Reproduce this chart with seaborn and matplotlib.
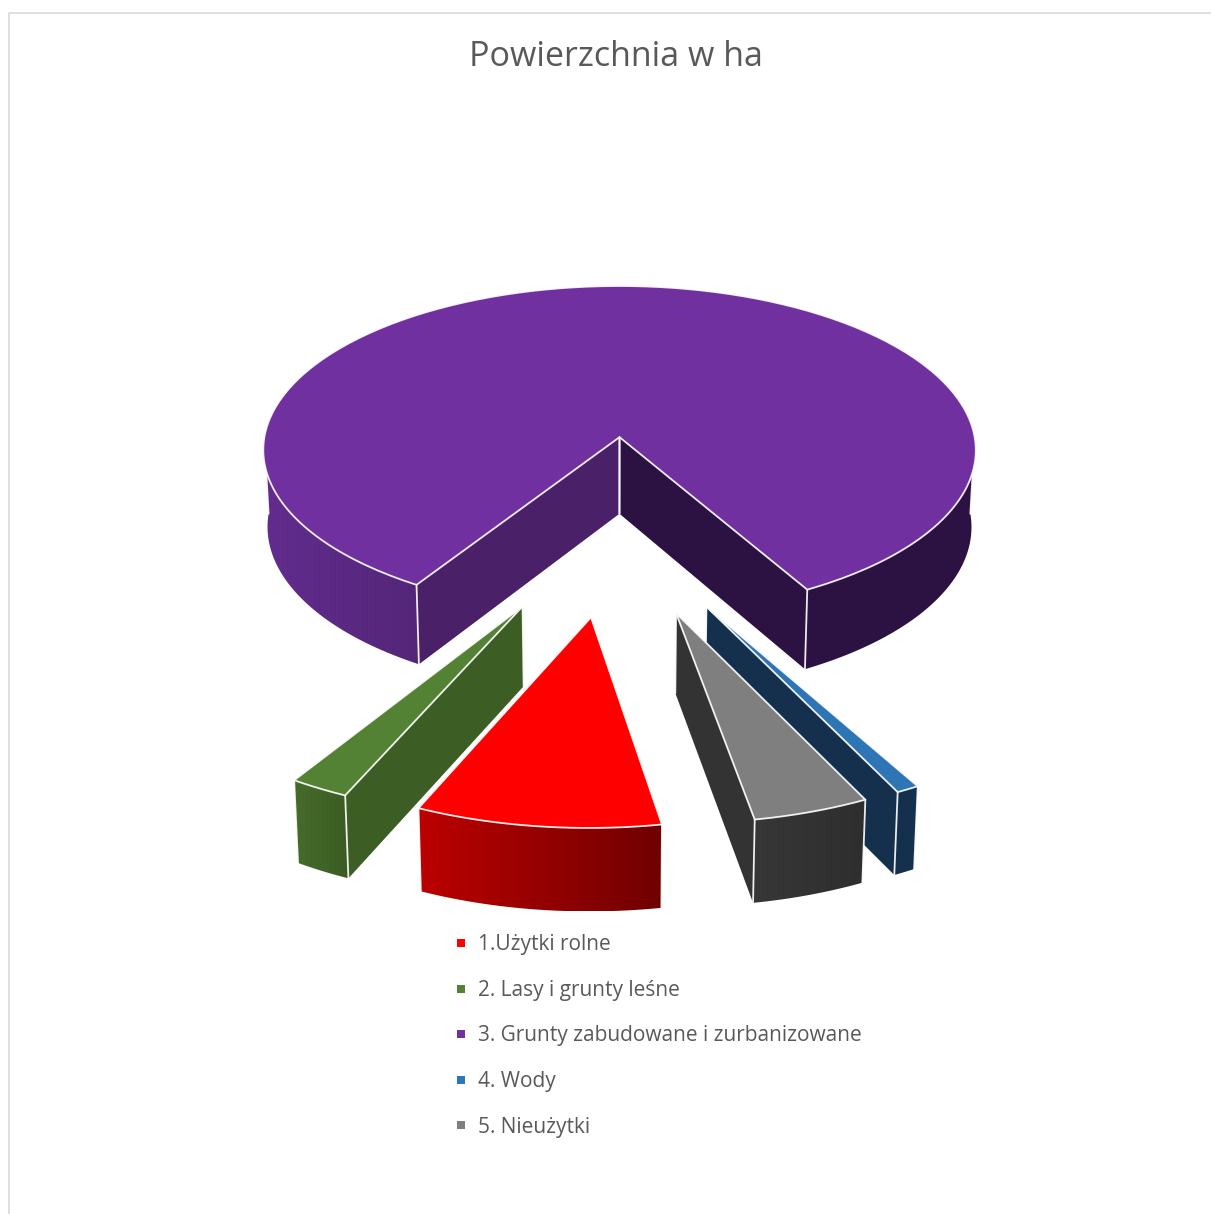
import matplotlib
matplotlib.use('Agg')
import matplotlib.pyplot as plt
from matplotlib.colors import LinearSegmentedColormap
from matplotlib.lines import Line2D
from matplotlib.patches import Polygon
import numpy as np
import seaborn as sns

# Shares (percent of the area)
labels = ['1.Użytki rolne', '2. Lasy i grunty leśne',
          '3. Grunty zabudowane i zurbanizowane', '4. Wody', '5. Nieużytki']
shares = [9.45, 2.3, 82.85, 0.9, 4.5]
top_colors = ['#FF0000', '#548235', '#7030A0', '#2E75B6', '#7F7F7F']
# outer wall gradient (left, right) and cut faces
wall_colors = [('#BC0000', '#700000'), ('#466C2B', '#3B5C22'),
               ('#622C8E', '#542679'), ('#14304C', '#14304C'), ('#373737', '#2E2E2E')]
wall_colors_right = ('#2C1242', '#2C1242')
cut_colors = ['#800000', '#3C5E24', '#4A2068', '#14304C', '#333333']
cut_color_right = '#2C1242'

sns.set_theme(style='white')
plt.rcParams['font.family'] = ['Open Sans', 'DejaVu Sans']

# Pie projection settings
START = -10.0   # first slice starts right of the front, goes clockwise
EXPLODE = 0.51
K = 0.082       # perspective strength
CX, CY = 615.0, 523.8
RX, RY = 370.0, 177.0


def project(u, v, lower=False):
  s = 1 / (1 - K * v)
  x = CX + RX * u * s
  y = CY + RY * v * s
  if lower:
    x = CX + (x - CX) * 0.988
    y = y + 78.3 + 3.4 * v
  return x, y


def rim(phi, off, lower=False):
  return project(np.sin(phi) * -1 + off[0], np.cos(phi) + off[1], lower)


def gradient_fill(ax, pts, colors, zorder):
  poly = Polygon(pts, closed=True, fc='none', ec='none', zorder=zorder)
  ax.add_patch(poly)
  xs = [p[0] for p in pts]
  ys = [p[1] for p in pts]
  cmap = LinearSegmentedColormap.from_list('wall', list(colors))
  im = ax.imshow(np.linspace(0, 1, 128).reshape(1, -1), cmap=cmap, aspect='auto',
                 extent=(min(xs), max(xs), max(ys), min(ys)), zorder=zorder)
  im.set_clip_path(poly)


def edge(ax, xs, ys, zorder):
  ax.plot(xs, ys, color='white', lw=1.3, alpha=0.9, zorder=zorder,
          solid_capstyle='round')


def draw_slice(ax, i, phi0, phi1, zorder):
  mid = (phi0 + phi1) / 2
  off = (-np.sin(mid) * EXPLODE, np.cos(mid) * EXPLODE)
  apex_t = project(off[0], off[1])
  apex_b = project(off[0], off[1], True)
  phis = np.linspace(phi0, phi1, 240)
  top_rim = [rim(p, off) for p in phis]

  # cut faces, only the ones turned to the viewer
  r0 = rim(phi0, off)
  r0b = rim(phi0, off, True)
  r1 = rim(phi1, off)
  r1b = rim(phi1, off, True)
  if r0[0] < apex_t[0]:
    ax.add_patch(Polygon([apex_t, r0, r0b, apex_b], fc=cut_colors[i], ec='none', zorder=zorder))
    edge(ax, [apex_t[0], apex_b[0]], [apex_t[1], apex_b[1]], zorder + 0.5)
  if r1[0] > apex_t[0]:
    col = cut_color_right if i == 2 else cut_colors[i]
    ax.add_patch(Polygon([apex_t, r1, r1b, apex_b], fc=col, ec='none', zorder=zorder))
    edge(ax, [apex_t[0], apex_b[0]], [apex_t[1], apex_b[1]], zorder + 0.5)

  # outer wall, the arcs facing the front
  for lo, hi, cols in [(phi0, min(phi1, np.pi / 2), wall_colors[i]),
                       (max(phi0, 3 * np.pi / 2), phi1, wall_colors_right if i == 2 else wall_colors[i]),
                       (phi0, min(phi1, np.pi / 2), None)][:2]:
    if hi <= lo:
      continue
    arc = np.linspace(lo, hi, 160)
    up = [rim(p, off) for p in arc]
    down = [rim(p, off, True) for p in arc]
    gradient_fill(ax, up + down[::-1], cols, zorder + 1)
    edge(ax, [up[0][0], down[0][0]], [up[0][1], down[0][1]], zorder + 1.5)
    edge(ax, [up[-1][0], down[-1][0]], [up[-1][1], down[-1][1]], zorder + 1.5)

  # top face
  ax.add_patch(Polygon([apex_t] + top_rim, fc=top_colors[i], ec='none', zorder=zorder + 2))
  outline = [apex_t] + top_rim + [apex_t]
  edge(ax, [p[0] for p in outline], [p[1] for p in outline], zorder + 2.5)


fig = plt.figure(figsize=(12.11, 12.14), dpi=100)
ax = fig.add_axes([0, 0, 1, 1])

# Slice angles from the shares
angles = np.deg2rad(np.array(shares) / sum(shares) * 360)
starts = np.deg2rad(START) + np.concatenate([[0], np.cumsum(angles)[:-1]])
stops = starts + angles
starts_norm = np.where(starts < 0, starts, starts)

# back to front: purple, blue, green, gray, red
for z, i in enumerate([2, 3, 1, 4, 0]):
  draw_slice(ax, i, starts[i], stops[i], 10 + z * 5)

ax.set_xlim(0, 1211)
ax.set_ylim(1214, 0)
ax.axis('off')

# Chart frame, open on the right and at the bottom
ax.plot([9, 9, 1211], [1214, 13, 13], color='#D9D9D9', lw=1.2, zorder=1)

ax.text(616, 57, 'Powierzchnia w ha', color='#595959', fontsize=24.5,
        ha='center', va='center')

palette = sns.color_palette(top_colors)
handles = [Line2D([], [], ls='none', marker='s', ms=6, color=c, mew=0) for c in palette]
ax.legend(handles, labels, loc='upper left', bbox_to_anchor=(444 / 1211, 1 - 928 / 1214),
          frameon=False, fontsize=15, labelcolor='#595959', labelspacing=1.18,
          handlelength=1.0, handletextpad=0.35, borderpad=0.3, borderaxespad=0)

fig.savefig('out.png', dpi=100)
